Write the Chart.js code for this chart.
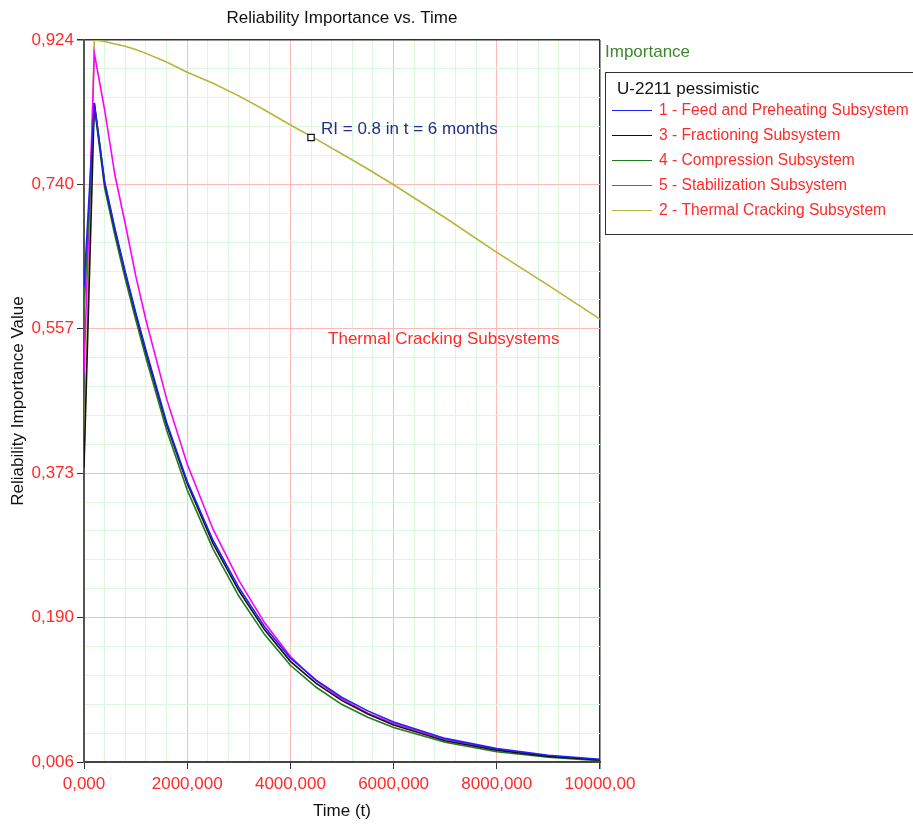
<!DOCTYPE html>
<html lang="en">
<head>
  <meta charset="UTF-8">
  <title>Reliability Importance vs. Time</title>
  <script src="https://cdn.jsdelivr.net/npm/chart.js"></script>
  <style>
    body { margin: 0; background: #fff; }
  </style>
</head>
<body>
  <canvas id="myChart" width="913" height="824"></canvas>
  <script>
  // time in hours
  const hours = [0, 200, 400, 600, 800, 1000, 1200, 1600, 2000, 2500, 3000, 3500, 4000, 4500, 5000, 5500, 6000, 7000, 8000, 9000, 10000]
  const feedPreheating = [0.61, 0.843, 0.744, 0.684, 0.629, 0.578, 0.530, 0.438, 0.363, 0.288, 0.228, 0.178, 0.138, 0.110, 0.088, 0.071, 0.057, 0.036, 0.023, 0.0145, 0.0095]
  const fractioning = [0.38, 0.844, 0.742, 0.682, 0.627, 0.576, 0.527, 0.435, 0.360, 0.284, 0.224, 0.174, 0.134, 0.106, 0.084, 0.067, 0.053, 0.033, 0.021, 0.013, 0.0085]
  const compression = [0.58, 0.840, 0.736, 0.675, 0.620, 0.569, 0.520, 0.428, 0.352, 0.277, 0.217, 0.168, 0.129, 0.101, 0.079, 0.063, 0.050, 0.031, 0.019, 0.012, 0.0075]
  const stabilization = [0.50, 0.907, 0.835, 0.752, 0.690, 0.625, 0.568, 0.468, 0.385, 0.302, 0.237, 0.183, 0.140, 0.109, 0.086, 0.068, 0.055, 0.035, 0.022, 0.0135, 0.0088]
  const thermalCracking = [0.39, 0.924, 0.922, 0.919, 0.916, 0.912, 0.907, 0.896, 0.883, 0.869, 0.853, 0.835, 0.816, 0.798, 0.779, 0.760, 0.740, 0.698, 0.654, 0.612, 0.569]

  const seriesNames = ["1 - Feed and Preheating Subsystem", "3 - Fractioning Subsystem", "4 - Compression Subsystem", "5 - Stabilization Subsystem", "2 - Thermal Cracking Subsystem"]
  const seriesColors = ["#2020ff", "#111111", "#1f7a1f", "#ff00ff", "#b5b53c"]

  const xTickLabels = ["0,000", "2000,000", "4000,000", "6000,000", "8000,000", "10000,00"]
  const yTickLabels = ["0,006", "0,190", "0,373", "0,557", "0,740", "0,924"]

  // marked point and notes
  const markTime = [4400]
  const markValue = [0.8]
  const markNote = "RI = 0.8 in t = 6 months"
  const groupNote = "Thermal Cracking Subsystems"
  const groupNoteAt = [4730, 0.543]

  Chart.defaults.font.family = '"Liberation Sans", Arial, sans-serif'

  const allSeries = [feedPreheating, fractioning, compression, stabilization, thermalCracking]
  const datasets = allSeries.map((vals, i) => ({
    label: seriesNames[i],
    data: hours.map((t, j) => ({x: t, y: vals[j]})),
    borderColor: seriesColors[i],
    backgroundColor: seriesColors[i],
    borderWidth: 1.6,
    pointRadius: 0,
    tension: 0,
    fill: false
  }))
  datasets.unshift({
    type: "scatter",
    label: "mark",
    skipLegend: true,
    data: markTime.map((t, i) => ({x: t, y: markValue[i]})),
    pointStyle: "rect",
    pointRadius: 4.5,
    backgroundColor: "#fff",
    borderColor: "#111",
    borderWidth: 1.2
  })

  const overlay = {
    id: "overlay",
    afterDatasetsDraw(chart) {
      const {ctx, scales: {x, y}} = chart
      ctx.save()
      ctx.textBaseline = "middle"
      ctx.textAlign = "left"
      ctx.font = '17px "Liberation Sans", Arial, sans-serif'
      ctx.fillStyle = "#2a2a8c"
      ctx.fillText(markNote, x.getPixelForValue(markTime[0]) + 10, y.getPixelForValue(markValue[0]) - 8)
      ctx.fillStyle = "#ff2a2a"
      ctx.fillText(groupNote, x.getPixelForValue(groupNoteAt[0]), y.getPixelForValue(groupNoteAt[1]))

      // legend box on the right
      ctx.fillStyle = "#3a8a2a"
      ctx.fillText("Importance", 605, 52)
      ctx.strokeStyle = "#333"
      ctx.lineWidth = 1
      ctx.strokeRect(605.5, 72.5, 330, 162)
      ctx.fillStyle = "#111"
      ctx.fillText("U-2211 pessimistic", 617, 89)
      ctx.font = '15.6px "Liberation Sans", Arial, sans-serif'
      chart.data.datasets.filter(d => !d.skipLegend).forEach((d, i) => {
        const rowY = 110.5 + i * 25
        ctx.strokeStyle = d.borderColor
        ctx.lineWidth = 1.2
        ctx.beginPath()
        ctx.moveTo(612, rowY)
        ctx.lineTo(652, rowY)
        ctx.stroke()
        ctx.fillStyle = "#ff2a2a"
        ctx.fillText(d.label, 659, rowY)
      })
      ctx.restore()
    }
  }

  const config = {
    type: "line",
    data: {datasets},
    options: {
      responsive: false,
      animation: false,
      layout: {padding: {left: 0, right: 313, top: 0, bottom: 0}},
      plugins: {
        legend: {display: false},
        tooltip: {enabled: false},
        title: {
          display: true,
          text: "Reliability Importance vs. Time",
          fullSize: false,
          color: "#111",
          font: {size: 17, weight: "normal"},
          padding: {top: 8, bottom: 11.6}
        }
      },
      scales: {
        x: {
          type: "linear",
          min: 0,
          max: 10000,
          afterFit: s => { s.height = 62 },
          border: {color: "#444", width: 2},
          grid: {
            color: c => c.index === 25 ? "#333" : (c.index % 5 === 0 ? "#ffb8b8" : "#dcf8dc"),
            lineWidth: c => c.index === 25 ? 1.5 : 1,
            tickColor: c => c.index % 5 === 0 ? "#333" : "rgba(0,0,0,0)",
            tickLength: 7
          },
          ticks: {
            stepSize: 400,
            autoSkip: false,
            maxRotation: 0,
            minRotation: 0,
            padding: 5,
            color: "#ff2a2a",
            font: {size: 17},
            callback: (v, i) => i % 5 === 0 ? xTickLabels[i / 5] : ""
          },
          title: {display: true, text: "Time (t)", color: "#111", font: {size: 17}, padding: {top: 0, bottom: 2}}
        },
        y: {
          type: "linear",
          min: 0.006,
          max: 0.924,
          afterFit: s => { s.width = 84 },
          border: {color: "#555", width: 2},
          grid: {
            color: c => c.index === 25 ? "#333" : (c.index % 5 === 0 ? "#ffb8b8" : "#dcf8dc"),
            lineWidth: c => c.index === 25 ? 1.5 : 1,
            tickColor: c => c.index % 5 === 0 ? "#333" : "rgba(0,0,0,0)",
            tickLength: 7
          },
          ticks: {
            stepSize: 0.03672,
            autoSkip: false,
            padding: 3,
            color: "#ff2a2a",
            font: {size: 17},
            callback: (v, i) => i % 5 === 0 ? yTickLabels[i / 5] : ""
          },
          title: {display: true, text: "Reliability Importance Value", color: "#111", font: {size: 17}, padding: {top: 8, bottom: 0}}
        }
      }
    },
    plugins: [overlay]
  }

  var myChart = new Chart(document.getElementById("myChart"), config)
  </script>
</body>
</html>
